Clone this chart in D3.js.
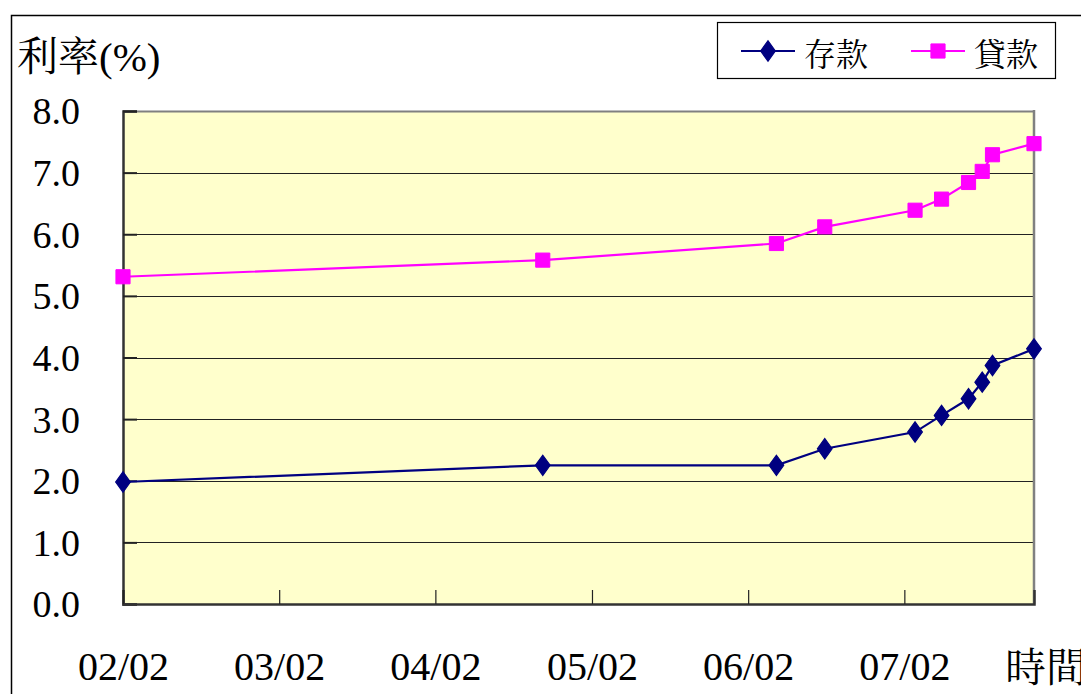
<!DOCTYPE html>
<html><head><meta charset="utf-8">
<script src="https://cdn.jsdelivr.net/npm/d3@7"></script>
<style>
body{margin:0;background:#fff;}
svg{display:block;}
</style></head>
<body>
<script>
const dates = ["2002-02-21","2004-10-29","2006-04-28","2006-08-19","2007-03-18","2007-05-19","2007-07-21","2007-08-22","2007-09-15","2007-12-21"];
const deposit = [1.98,2.25,2.25,2.52,2.79,3.06,3.33,3.60,3.87,4.14];
const loan = [5.31,5.58,5.85,6.12,6.39,6.57,6.84,7.02,7.29,7.47];
const xTickDates = ["2002-02-21","2003-02-21","2004-02-21","2005-02-21","2006-02-21","2007-02-21"];
const yTicks = [0,1,2,3,4,5,6,7,8];
const seriesNames = ["存款","貸款"];
const yTitle = "利率(%)";
const xTitle = "時間";

const SERIF = "'Liberation Serif', 'Times New Roman', Tinos, 'DejaVu Serif', serif";
const MIX = "'Liberation Serif', 'Times New Roman', Tinos, 'DejaVu Serif', 'Noto Serif CJK TC', 'Noto Sans CJK TC', serif";

const W=1081,H=694;
const parse = d3.timeParse("%Y-%m-%d");
const svg = d3.select("body").append("svg").attr("width",W).attr("height",H);

svg.append("rect").attr("x",11.5).attr("y",15.5).attr("width",W+20).attr("height",H+20)
  .attr("fill","none").attr("stroke","#000").attr("stroke-width",1.5);

const L=123,R=1034,T=111,B=604;
const x = d3.scaleTime().domain([parse(dates[0]), parse(dates[dates.length-1])]).range([L,R]);
const y = d3.scaleLinear().domain([0,8]).range([B,T]);

svg.append("rect").attr("x",L).attr("y",T).attr("width",R-L).attr("height",B-T).attr("fill","#FFFFCC");

svg.append("g").selectAll("line").data(yTicks.slice(1)).join("line")
  .attr("x1",L).attr("x2",R).attr("y1",d=>Math.round(y(d))+0.5).attr("y2",d=>Math.round(y(d))+0.5)
  .attr("stroke",d=>d===8?"#808080":"#222").attr("stroke-width",d=>d===8?2:1);

svg.append("line").attr("x1",R).attr("x2",R).attr("y1",T-1).attr("y2",B).attr("stroke","#808080").attr("stroke-width",2.5);

const ya = svg.append("g").attr("transform",`translate(${L},0)`)
  .call(d3.axisLeft(y).tickValues(yTicks).tickFormat(d3.format(".1f")).tickSize(-14).tickPadding(43));
ya.select(".domain").attr("stroke","#333").attr("stroke-width",2.5);
ya.selectAll(".tick line").attr("stroke","#222").attr("stroke-width",2);
ya.selectAll(".tick text").style("font-family",SERIF).style("font-size","38px").attr("fill","#000").attr("dy","0.34em");

const xa = svg.append("g").attr("transform",`translate(0,${B})`)
  .call(d3.axisBottom(x).tickValues(xTickDates.map(parse)).tickFormat(d3.timeFormat("%y/%m")).tickSize(-14).tickPadding(0));
xa.select(".domain").attr("stroke","#333").attr("stroke-width",2.5);
xa.selectAll(".tick line").attr("stroke","#222").attr("stroke-width",1.2);
xa.selectAll(".tick text").style("font-family",SERIF).style("font-size","40px").attr("fill","#000").attr("y",76).attr("dy",0);

svg.append("text").attr("x",17).attr("y",71).style("font-family",MIX).style("font-size","41px").text(yTitle);
svg.append("text").attr("x",1005).attr("y",682).style("font-family",MIX).style("font-size","41px").text(xTitle);

const line = d3.line().x((d,i)=>x(parse(dates[i]))).y(d=>y(d));
const colors = ["#000080","#FF00FF"];
const data = [deposit, loan];

data.forEach((vals,k)=>{
  svg.append("path").datum(vals).attr("d",line).attr("fill","none").attr("stroke",colors[k]).attr("stroke-width",2.2);
  const sym = d3.symbol().type(k===0?d3.symbolDiamond:d3.symbolSquare).size(k===0?120:200);
  svg.append("g").selectAll("path").data(vals).join("path")
    .attr("transform",(d,i)=>`translate(${x(parse(dates[i]))},${y(d)})${k===0?" scale(1.25,1)":""}`)
    .attr("d",sym).attr("fill",colors[k]).attr("stroke",colors[k]).attr("stroke-width",1);
});

const lg = svg.append("g");
lg.append("rect").attr("x",717.5).attr("y",22.5).attr("width",338).attr("height",56).attr("fill","#fff").attr("stroke","#000").attr("stroke-width",1.2);
const lx=[741,911];
seriesNames.forEach((n,k)=>{
  lg.append("line").attr("x1",lx[k]).attr("x2",lx[k]+54).attr("y1",51).attr("y2",51).attr("stroke",colors[k]).attr("stroke-width",2.2);
  const sym = d3.symbol().type(k===0?d3.symbolDiamond:d3.symbolSquare).size(k===0?120:200);
  lg.append("path").attr("transform",`translate(${lx[k]+27},51)${k===0?" scale(1.25,1)":""}`).attr("d",sym).attr("fill",colors[k]).attr("stroke",colors[k]);
  lg.append("text").attr("x",lx[k]+63).attr("y",66).style("font-family",MIX).style("font-size","32px").text(n);
});
</script>
</body></html>
